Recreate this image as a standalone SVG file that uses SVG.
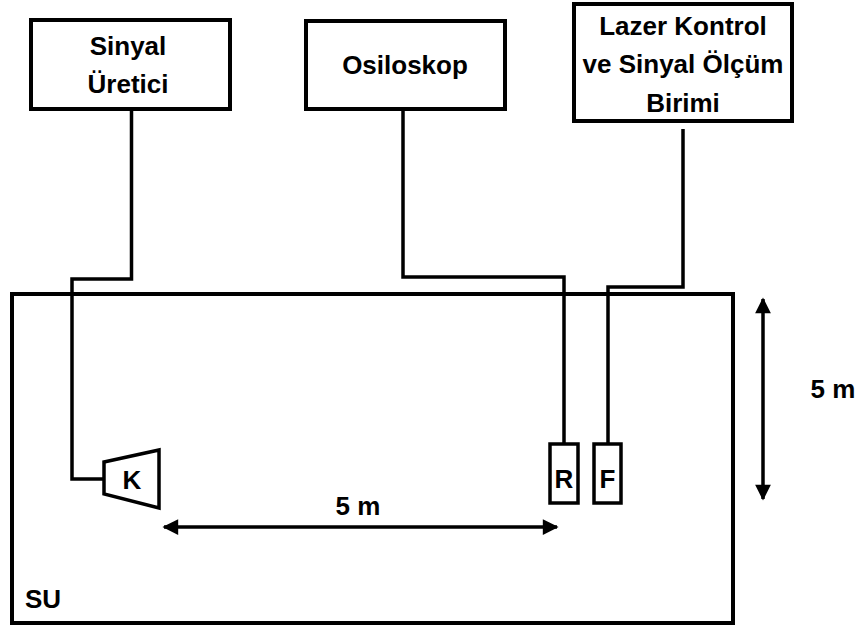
<svg xmlns="http://www.w3.org/2000/svg" width="856" height="630" viewBox="0 0 856 630">
<style>
.box{fill:#fff;stroke:#000;stroke-width:4}
.ln{fill:none;stroke:#000;stroke-width:3.5;stroke-linejoin:miter}
.t{font-family:"Liberation Sans",Arial,sans-serif;font-weight:bold;font-size:26px;fill:#000;text-anchor:middle}
</style>
<defs>
<marker id="ah" viewBox="0 0 10 10" refX="9" refY="5" markerWidth="5" markerHeight="4.5" orient="auto-start-reverse" markerUnits="strokeWidth">
<path d="M0,0 L10,5 L0,10 z" fill="#000"/>
</marker>
</defs>
<rect width="856" height="630" fill="#fff"/>
<g id="tank">
<rect x="12" y="294" width="721" height="329" fill="none" stroke="#000" stroke-width="4"/>
<text class="t" x="25" y="608" style="text-anchor:start">SU</text>
</g>
<g id="connectors">
<polyline class="ln" points="131.5,110 131.5,279 72,279 72,479 104,479"/>
<polyline class="ln" points="403,110 403,277 564,277 564,444"/>
<polyline class="ln" points="683,129 683,287 608,287 608,444"/>
<line class="ln" x1="164" y1="527" x2="557" y2="527" marker-start="url(#ah)" marker-end="url(#ah)"/>
<line class="ln" x1="763" y1="299" x2="763" y2="499" marker-start="url(#ah)" marker-end="url(#ah)"/>
</g>
<g id="sinyal-uretici">
<rect class="box" x="31" y="20" width="199" height="89"/>
<text class="t" x="128" y="55">Sinyal</text>
<text class="t" x="128" y="93">Üretici</text>
</g>
<g id="osiloskop">
<rect class="box" x="306" y="21" width="199" height="88"/>
<text class="t" x="405" y="74">Osiloskop</text>
</g>
<g id="lazer">
<rect class="box" x="574" y="4" width="218" height="117"/>
<text class="t" x="683" y="35">Lazer Kontrol</text>
<text class="t" x="683" y="73">ve Sinyal Ölçüm</text>
<text class="t" x="683" y="112">Birimi</text>
</g>
<g id="K">
<polygon points="104,462 159,450 159,508 104,494" fill="#fff" stroke="#000" stroke-width="3.5"/>
<text class="t" x="132" y="489">K</text>
</g>
<g id="R">
<rect x="550" y="444" width="28" height="59" fill="#fff" stroke="#000" stroke-width="3.5"/>
<text class="t" x="564" y="488">R</text>
</g>
<g id="F">
<rect x="594" y="444" width="27" height="59" fill="#fff" stroke="#000" stroke-width="3.5"/>
<text class="t" x="607.5" y="488">F</text>
</g>
<g id="dim-labels">
<text class="t" x="358" y="515">5 m</text>
<text class="t" x="833" y="398">5 m</text>
</g>
</svg>
